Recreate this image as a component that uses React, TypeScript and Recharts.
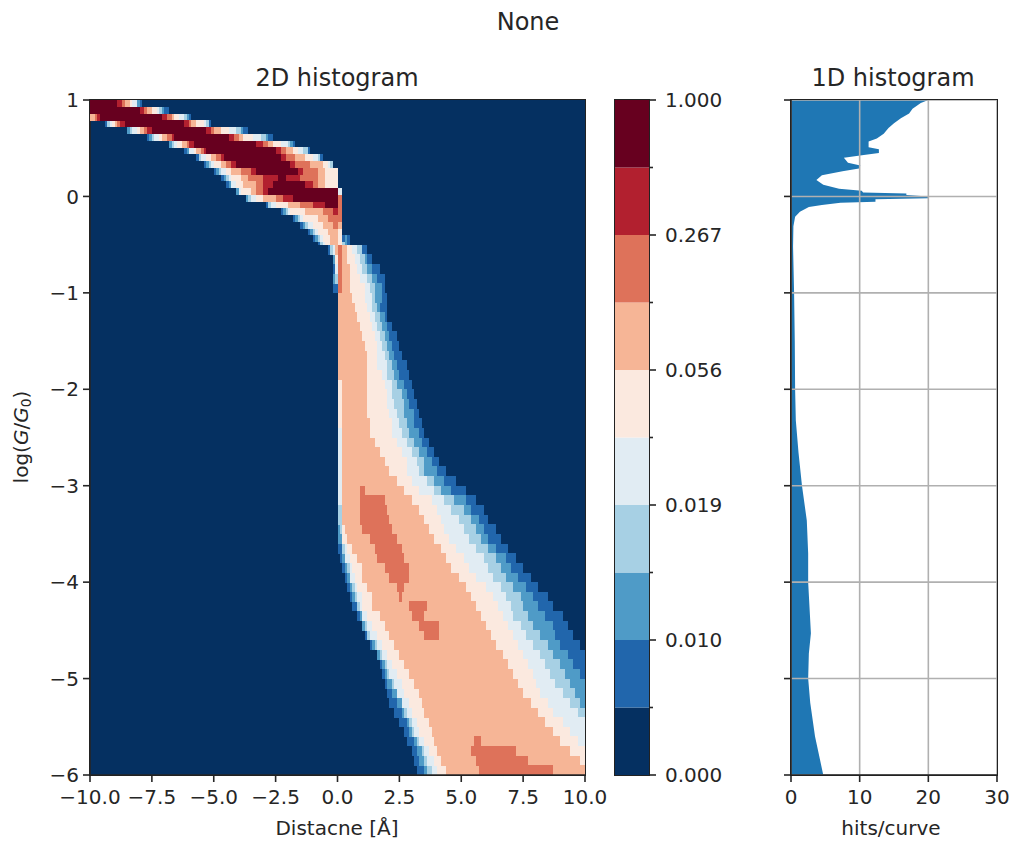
import React from "react";
import { Area, Bar, BarChart, ComposedChart, ReferenceLine, XAxis, YAxis } from "recharts";

const levelColors = ["#053061", "#2166ac", "#4f9bc7", "#a7d0e4", "#e1ecf3", "#fbe9df", "#f6b596", "#de725a", "#b2202f", "#67001f"];
const colorbarLabels = ["0.000", "", "0.010", "", "0.019", "", "0.056", "", "0.267", "", "1.000"];
const colorbarTicks = [0, 1, 2, 3, 4, 5, 6, 7, 8, 9, 10];
const distanceTicks = [-10, -7.5, -5, -2.5, 0, 2.5, 5, 7.5, 10];
const logTicks = [-6, -5, -4, -3, -2, -1, 0, 1];
const hitsTicks = [0, 10, 20, 30];

// log(G/G0) at the centre of each heatmap row, top to bottom
const rowG = [
  0.95, 0.85, 0.75, 0.65, 0.55, 0.45, 0.35, 0.25, 0.15, 0.05, -0.05, -0.15, -0.25, -0.35, -0.45, -0.55, -0.65, -0.75, -0.85, -0.95,
  -1.05, -1.15, -1.25, -1.35, -1.45, -1.55, -1.65, -1.75, -1.85, -1.95, -2.05, -2.15, -2.25, -2.35, -2.45, -2.55, -2.65, -2.75, -2.85, -2.95,
  -3.05, -3.15, -3.25, -3.35, -3.45, -3.55, -3.65, -3.75, -3.85, -3.95, -4.05, -4.15, -4.25, -4.35, -4.45, -4.55, -4.65, -4.75, -4.85, -4.95,
  -5.05, -5.15, -5.25, -5.35, -5.45, -5.55, -5.65, -5.75, -5.85, -5.95,
];
const FIRST_TAIL_ROW = 14; // rows above this are drawn by the finer ridge chart

// left edge of colour levels 1 to 6 on each row from FIRST_TAIL_ROW down (distance)
const leftEdges = [
  [-0.8, -0.7, -0.7, -0.6, -0.5, -0.3], [-0.4, -0.3, -0.3, -0.2, -0.1, -0.1],
  [-0.2, -0.2, -0.1, -0.1, -0.1, 0], [-0.2, -0.1, -0.1, -0.1, 0, 0], [-0.2, -0.2, -0.1, 0, 0, 0], [-0.2, 0, 0, 0, 0, 0],
  [0, 0, 0, 0, 0, 0], [0, 0, 0, 0, 0, 0], [0, 0, 0, 0, 0, 0], [0, 0, 0, 0, 0, 0], [0, 0, 0, 0, 0, 0],
  [0, 0, 0, 0, 0, 0], [0, 0, 0, 0, 0, 0], [0, 0, 0, 0, 0, 0], [0, 0, 0, 0, 0, 0], [0, 0, 0, 0, 0, 0.2],
  [0, 0, 0, 0, 0, 0.2], [0, 0, 0, 0, 0, 0.2], [0, 0, 0, 0, 0, 0.2], [0, 0, 0, 0, 0, 0.2], [0, 0, 0, 0, 0.2, 0.2],
  [0, 0, 0, 0, 0.2, 0.2], [0, 0, 0, 0, 0.2, 0.2], [0, 0, 0, 0, 0.2, 0.2], [0, 0, 0, 0, 0.2, 0.2], [0, 0, 0, 0, 0.2, 0.2],
  [0, 0, 0, 0, 0.2, 0.2], [0, 0, 0, 0, 0.2, 0.2], [0, 0, 0, 0.2, 0.2, 0.2], [0, 0, 0, 0.2, 0.2, 0.2], [0, 0, 0.1, 0.2, 0.2, 0.3],
  [0, 0, 0.2, 0.2, 0.2, 0.4], [0, 0.2, 0.2, 0.3, 0.4, 0.6], [0.1, 0.2, 0.3, 0.3, 0.5, 0.8], [0.2, 0.3, 0.4, 0.5, 0.6, 1.0], [0.3, 0.4, 0.5, 0.5, 0.7, 1.0],
  [0.4, 0.5, 0.6, 0.7, 0.8, 1.2], [0.5, 0.6, 0.7, 0.8, 1.0, 1.4], [0.6, 0.8, 0.8, 0.9, 1.0, 1.4], [0.8, 0.9, 1.0, 1.0, 1.2, 1.7], [1.0, 1.0, 1.1, 1.2, 1.4, 1.9],
  [1.1, 1.2, 1.2, 1.3, 1.6, 2.1], [1.3, 1.4, 1.5, 1.6, 1.8, 2.3], [1.6, 1.6, 1.7, 1.8, 2.0, 2.5], [1.7, 1.8, 1.9, 2.0, 2.2, 2.7], [1.8, 1.9, 2.0, 2.1, 2.4, 2.9],
  [1.9, 2.0, 2.2, 2.3, 2.6, 3.1], [2.0, 2.2, 2.4, 2.4, 2.7, 3.3], [2.1, 2.4, 2.6, 2.6, 2.9, 3.4], [2.3, 2.6, 2.7, 2.8, 3.0, 3.5], [2.5, 2.8, 2.9, 3.0, 3.2, 3.7],
  [2.7, 2.9, 3.0, 3.1, 3.3, 3.8], [2.8, 3.1, 3.2, 3.3, 3.5, 3.9], [3.0, 3.2, 3.4, 3.5, 3.7, 4.0], [3.1, 3.3, 3.5, 3.6, 3.9, 4.2], [3.2, 3.5, 3.6, 3.8, 4.0, 4.4],
];

// right edge of colour levels 1 to 6, same rows
const rightEdges = [
  [0.5, 0.4, 0.3, 0.2, 0.2, 0], [1.2, 1.0, 1.0, 0.8, 0.6, 0.4],
  [1.4, 1.2, 1.1, 0.9, 0.7, 0.4], [1.7, 1.4, 1.2, 1.0, 0.8, 0.5], [1.9, 1.6, 1.4, 1.2, 0.9, 0.5], [1.9, 1.8, 1.5, 1.3, 1.1, 0.5],
  [2.0, 1.8, 1.5, 1.4, 1.1, 0.6], [2.0, 1.7, 1.6, 1.4, 1.2, 0.7], [2.0, 1.9, 1.7, 1.5, 1.3, 0.8], [2.2, 2.0, 1.8, 1.6, 1.4, 0.9], [2.4, 2.1, 1.9, 1.7, 1.5, 1.0],
  [2.5, 2.2, 2.0, 1.8, 1.6, 1.1], [2.6, 2.3, 2.1, 1.9, 1.6, 1.2], [2.8, 2.4, 2.2, 2.0, 1.6, 1.2], [2.9, 2.5, 2.3, 2.0, 1.8, 1.2], [3.0, 2.7, 2.4, 2.2, 1.9, 1.2],
  [3.1, 2.8, 2.6, 2.2, 2.0, 1.2], [3.2, 2.9, 2.7, 2.3, 2.0, 1.2], [3.3, 3.1, 2.7, 2.4, 2.1, 1.2], [3.4, 3.1, 2.8, 2.5, 2.2, 1.3], [3.5, 3.3, 2.9, 2.6, 2.2, 1.3],
  [3.7, 3.4, 3.1, 2.8, 2.4, 1.5], [3.9, 3.6, 3.3, 3.0, 2.6, 1.7], [4.1, 3.8, 3.5, 3.2, 2.8, 1.9], [4.4, 4.0, 3.5, 3.3, 2.8, 2.1], [4.8, 4.3, 3.9, 3.6, 3.0, 2.4],
  [5.2, 4.6, 4.2, 3.9, 3.3, 2.7], [5.6, 5.2, 4.7, 4.3, 3.8, 3.0], [5.9, 5.4, 5.1, 4.6, 4.0, 3.3], [6.1, 5.7, 5.4, 4.9, 4.2, 3.5], [6.4, 5.9, 5.6, 5.1, 4.3, 3.7],
  [6.6, 6.1, 5.8, 5.3, 4.5, 3.9], [6.9, 6.4, 6.1, 5.6, 4.8, 4.2], [7.2, 6.8, 6.4, 5.9, 5.1, 4.4], [7.5, 7.0, 6.6, 6.1, 5.3, 4.6], [7.8, 7.3, 6.8, 6.3, 5.6, 4.9],
  [8.1, 7.6, 7.1, 6.6, 6.0, 5.2], [8.5, 7.9, 7.4, 6.8, 6.3, 5.4], [8.7, 8.1, 7.5, 7.0, 6.5, 5.6], [9.1, 8.4, 7.7, 7.1, 6.7, 5.8], [9.3, 8.7, 7.9, 7.4, 6.9, 6.0],
  [9.5, 8.8, 8.2, 7.6, 7.1, 6.2], [9.8, 9.0, 8.5, 7.9, 7.3, 6.4], [10, 9.3, 8.7, 8.2, 7.5, 6.7], [10, 9.5, 9.0, 8.4, 7.7, 6.9], [10, 9.8, 9.2, 8.6, 7.9, 7.1],
  [10, 10, 9.4, 8.8, 8.0, 7.3], [10, 10, 9.6, 9.1, 8.2, 7.5], [10, 10, 9.8, 9.4, 8.5, 7.8], [10, 10, 10, 9.7, 8.7, 8.1], [10, 10, 10, 10, 9.1, 8.4],
  [10, 10, 10, 10, 9.4, 8.7], [10, 10, 10, 10, 9.7, 9.0], [10, 10, 10, 10, 10, 9.4], [10, 10, 10, 10, 10, 9.8], [10, 10, 10, 10, 10, 10],
];

// the orange islands in the tail
const level7Rows = [15, 16, 17, 18, 19, 40, 41, 42, 43, 44, 45, 46, 47, 48, 49, 50, 51, 52, 53, 54, 55, 66, 67, 68, 69];
const level7Spans = [
  [0, 0.2], [0, 0.2], [0, 0.2], [0, 0.2], [0, 0.2],
  [0.9, 1.1], [0.9, 1.9], [0.9, 2.0], [0.9, 2.1], [1.0, 2.2], [1.3, 2.4], [1.5, 2.6], [1.6, 2.7], [1.9, 2.9], [2.1, 2.9], [2.4, 2.7], [2.5, 2.6], [2.9, 3.6], [3.0, 3.5], [3.3, 4.1], [3.5, 4.1],
  [5.5, 5.8], [5.4, 7.2], [5.6, 7.7], [5.7, 8.7],
];

// the ridge at high conductance, read at the finer bin height of the source
const ridgeG = [0.965, 0.895, 0.825, 0.755, 0.685, 0.615, 0.545, 0.475, 0.405, 0.335, 0.265, 0.195, 0.125, 0.055, -0.015, -0.085, -0.155, -0.225, -0.295, -0.365, -0.435];
// left edges of levels 1 to 9
const ridgeLeft = [
  [-10, -10, -10, -10, -10, -10, -10, -10, -10],
  [-10, -10, -10, -10, -10, -10, -10, -10, -10],
  [-10, -10, -10, -10, -10, -10, -9.8, -9.7, -9.6],
  [-9.4, -9.3, -9.3, -9.2, -9.1, -9.0, -8.9, -8.8, -8.6],
  [-8.5, -8.5, -8.4, -8.3, -8.1, -8.0, -7.8, -7.7, -7.5],
  [-7.7, -7.6, -7.5, -7.4, -7.2, -7.1, -6.9, -6.7, -6.6],
  [-6.8, -6.8, -6.7, -6.6, -6.5, -6.3, -6.1, -6.0, -5.8],
  [-6.2, -6.1, -6.0, -6.0, -5.8, -5.7, -5.5, -5.4, -5.3],
  [-5.7, -5.6, -5.6, -5.5, -5.3, -5.1, -4.9, -4.7, -4.6],
  [-5.4, -5.3, -5.2, -5.1, -5.0, -4.7, -4.5, -4.3, -4.1],
  [-5.0, -4.9, -4.8, -4.7, -4.5, -4.3, -3.9, -3.5, -3.3],
  [-4.7, -4.6, -4.5, -4.4, -4.3, -3.9, -3.6, -3.0, -2.4],
  [-4.5, -4.4, -4.3, -4.3, -4.1, -3.8, -3.3, -3.0, -2.6],
  [-4.1, -4.1, -4.0, -4.0, -3.9, -3.5, -3.3, -3.0, -2.8],
  [-3.7, -3.7, -3.6, -3.5, -3.3, -3.0, -2.5, -2.2, -1.8],
  [-2.9, -2.8, -2.8, -2.7, -2.5, -2.0, -1.5, -1.0, -0.5],
  [-2.3, -2.2, -2.1, -2.0, -1.9, -1.3, -0.6, -0.2, null],
  [-1.8, -1.7, -1.6, -1.5, -1.4, -0.8, -0.4, null, null],
  [-1.5, -1.4, -1.3, -1.2, -1.0, -0.6, -0.2, null, null],
  [-1.2, -1.1, -1.0, -0.9, -0.8, -0.4, null, null, null],
  [-1.0, -0.9, -0.8, -0.7, -0.6, -0.3, null, null, null],
];
// right edges of levels 1 to 9
const ridgeRight = [
  [-7.9, -8.0, -8.1, -8.1, -8.3, -8.4, -8.6, -8.7, -8.9],
  [-6.8, -7.0, -7.1, -7.2, -7.3, -7.5, -7.7, -7.8, -8.0],
  [-5.9, -6.0, -6.1, -6.2, -6.4, -6.6, -6.7, -6.9, -7.1],
  [-5.1, -5.2, -5.2, -5.3, -5.4, -5.7, -5.9, -6.0, -6.2],
  [-3.6, -3.8, -3.9, -4.1, -4.4, -4.7, -5.0, -5.1, -5.3],
  [-2.6, -2.8, -2.9, -3.1, -3.4, -3.8, -4.0, -4.2, -4.4],
  [-1.7, -1.8, -1.9, -2.0, -2.3, -2.6, -2.8, -3.0, -3.3],
  [-1.1, -1.2, -1.2, -1.4, -1.6, -1.8, -2.1, -2.3, -2.5],
  [-0.6, -0.7, -0.7, -0.8, -1.0, -1.3, -1.7, -2.1, -2.3],
  [-0.2, -0.2, -0.2, -0.3, -0.4, -0.6, -1.1, -1.7, -1.9],
  [0, 0, 0, 0, 0, -0.5, -0.8, -1.4, -1.6],
  [0, 0, 0, 0, 0, -0.5, -0.8, -1.5, -2.1],
  [0, 0, 0, 0, 0, -0.5, -0.8, -1.0, -1.3],
  [0.2, 0.2, 0.2, 0.2, 0, -0.3, 0, 0, 0],
  [0.2, 0.2, 0.2, 0.2, 0.2, 0.2, 0.2, 0, 0],
  [0.2, 0.2, 0.2, 0.2, 0.2, 0.2, 0.2, 0, 0],
  [0.2, 0.2, 0.2, 0.2, 0.2, 0.2, 0.2, 0, null],
  [0.2, 0.2, 0.2, 0.2, 0.2, 0.2, 0.2, null, null],
  [0.2, 0.2, 0.2, 0.2, 0.2, 0.2, 0, null, null],
  [0.2, 0.2, 0.2, 0.2, 0.2, 0, null, null, null],
  [0.3, 0.2, 0.2, 0.2, 0.2, 0, null, null, null],
];

const histG = [
  1.0, 0.97, 0.91, 0.86, 0.81, 0.76, 0.71, 0.65, 0.6, 0.57, 0.51, 0.49, 0.45, 0.43, 0.4, 0.35, 0.32, 0.29, 0.26, 0.22, 0.17, 0.12, 0.08, 0.06, 0.04, 0.03, 0.015, 0.0, -0.02, -0.03, -0.055, -0.065, -0.09, -0.11, -0.16, -0.21, -0.31, -0.52, -1.0, -1.5, -2.0, -2.32, -2.66, -3.0, -3.36, -3.7, -4.0, -4.53, -4.74, -5.0, -5.25, -5.6, -6.0,
];
const histHits = [
  20, 18.9, 17.7, 17.2, 16, 15, 14.2, 13.5, 12.5, 11.3, 11.3, 12.8, 12.8, 10.6, 7.7, 8.3, 10.1, 9.9, 7.5, 4.5, 3.7, 4.7, 7, 10.3, 10.5, 16.8, 16.8, 20, 20, 12.3, 12.3, 7.2, 4.5, 2.6, 1.3, 0.6, 0.35, 0.3, 0.45, 0.55, 0.6, 0.7, 1.1, 1.6, 2.3, 2.5, 2.5, 2.9, 2.6, 2.5, 2.8, 3.5, 4.7,
];

const FONT = "'DejaVu Sans', sans-serif";
const INK = "#262626";
const TICK_FONT = 20;
const TITLE_FONT = 24;
const TAIL_LEVELS = [1, 2, 3, 4, 5, 6, 7];
const RIDGE_LEVELS = [1, 2, 3, 4, 5, 6, 7, 8, 9];

const tailRows = rowG.map((g, i) => {
  const row: Record<string, any> = { row: g, lvl0: [-10, 10] };
  const t = i - FIRST_TAIL_ROW;
  if (t >= 0) {
    [1, 2, 3, 4, 5, 6].forEach((lvl, k) => {
      row["lvl" + lvl] = [leftEdges[t][k], rightEdges[t][k]];
    });
  }
  return row;
});
level7Rows.forEach((r, i) => (tailRows[r].lvl7 = level7Spans[i]));

const ridgeRows = ridgeG.map((g, i) => {
  const row: Record<string, any> = { row: g };
  RIDGE_LEVELS.forEach((lvl, k) => {
    if (ridgeLeft[i][k] !== null) row["lvl" + lvl] = [ridgeLeft[i][k], ridgeRight[i][k]];
  });
  return row;
});

const histRows = histG.map((g, i) => ({ g, hits: histHits[i] }));
const colorbarRow = [Object.fromEntries(levelColors.map((_, i) => ["band" + i, 1]))];

const minus = (v: number, digits = 0) => v.toFixed(digits).replace("-", "\u2212");

// bars get floored to whole pixels, so let each row overlap the next one
function HeatCell(props: any) {
  const { x, y, width, height, fill } = props;
  if (!width) return null;
  return <rect x={x} y={y} width={width} height={height + 1} fill={fill} shapeRendering="crispEdges" />;
}

function ColorbarTick(props: any) {
  const { x, y, payload } = props;
  const label = colorbarLabels[payload.value];
  return (
    <g>
      <line x1={x} x2={x + (label ? 7 : 4)} y1={y} y2={y} stroke={INK} strokeWidth={1.6} />
      <text x={x + 16} y={y + 7} fontSize={TICK_FONT} fontFamily={FONT} fill={INK}>
        {label}
      </text>
    </g>
  );
}

const tickStyle = { fontSize: TICK_FONT, fontFamily: FONT, fill: INK };
const axisLine = { stroke: INK, strokeWidth: 1.6 };
const frame = (left: number, width: number): React.CSSProperties => ({
  position: "absolute",
  left,
  top: 99.2,
  width,
  height: 675,
  border: "1.6px solid #222",
  pointerEvents: "none",
});
const caption = (center: number, top: number, size: number): React.CSSProperties => ({
  position: "absolute",
  left: center - 150,
  width: 300,
  top,
  textAlign: "center",
  fontFamily: FONT,
  fontSize: size,
  color: INK,
  lineHeight: "22px",
});

export default function App() {
  return (
    <div style={{ position: "absolute", left: 0, top: 0, width: 1010, height: 843, background: "#fff", overflow: "hidden" }}>
      <div style={caption(528, 11, TITLE_FONT)}>None</div>
      <div style={caption(337, 67, TITLE_FONT)}>2D histogram</div>
      <div style={caption(893, 67, TITLE_FONT)}>1D histogram</div>
      <div style={caption(337, 817, TICK_FONT)}>{"Distacne [\u00c5]"}</div>
      <div style={caption(891, 817, TICK_FONT)}>hits/curve</div>

      <div style={{ position: "absolute", left: 0, top: 0 }}>
        <ComposedChart
          width={610}
          height={843}
          data={tailRows}
          layout="vertical"
          margin={{ top: 100, left: 30, right: 25, bottom: 38 }}
          barCategoryGap={0}
          barGap={-9}
        >
          <XAxis
            type="number"
            domain={[-10, 10]}
            ticks={distanceTicks}
            interval={0}
            height={30}
            tickSize={7}
            tickMargin={8}
            tick={tickStyle}
            stroke={INK}
            strokeWidth={1.6}
            axisLine={axisLine}
            tickFormatter={(v: number) => minus(v, 1)}
          />
          <YAxis
            yAxisId="ticks"
            type="number"
            dataKey="row"
            domain={[-6, 1]}
            ticks={logTicks}
            interval={0}
            reversed
            width={60}
            tickSize={7}
            tickMargin={4}
            tick={tickStyle}
            stroke={INK}
            strokeWidth={1.6}
            axisLine={axisLine}
            tickFormatter={(v: number) => minus(v)}
          />
          <YAxis yAxisId="rows" type="category" dataKey="row" hide width={0} />
          <Bar yAxisId="rows" dataKey="lvl0" fill={levelColors[0]} shape={HeatCell} isAnimationActive={false} />
          {TAIL_LEVELS.map((lvl) => (
            <Bar key={lvl} yAxisId="rows" dataKey={"lvl" + lvl} fill={levelColors[lvl]} shape={HeatCell} isAnimationActive={false} />
          ))}
        </ComposedChart>
      </div>

      <div style={{ position: "absolute", left: 0, top: 0 }}>
        <ComposedChart
          width={610}
          height={260}
          data={ridgeRows}
          layout="vertical"
          margin={{ top: 100, left: 90, right: 25, bottom: 18.25 }}
          barCategoryGap={0}
          barGap={-6}
        >
          <XAxis type="number" domain={[-10, 10]} hide height={0} />
          <YAxis type="category" dataKey="row" hide width={0} />
          {RIDGE_LEVELS.map((lvl) => (
            <Bar key={lvl} dataKey={"lvl" + lvl} fill={levelColors[lvl]} shape={HeatCell} isAnimationActive={false} />
          ))}
        </ComposedChart>
      </div>

      <svg width={60} height={843} style={{ position: "absolute", left: 0, top: 0 }}>
        <text transform="translate(28,437) rotate(-90)" textAnchor="middle" fontSize={TICK_FONT} fontFamily={FONT} fill={INK}>
          log(<tspan fontStyle="italic">G</tspan>/<tspan fontStyle="italic">G</tspan>
          <tspan fontSize={14} dy={3}>0</tspan>
          <tspan dy={-3}>)</tspan>
        </text>
      </svg>

      <div style={{ position: "absolute", left: 600, top: 0 }}>
        <BarChart width={130} height={843} data={colorbarRow} margin={{ top: 100, left: 15, right: 0, bottom: 68 }} barCategoryGap={0}>
          <XAxis hide />
          <YAxis
            orientation="right"
            type="number"
            domain={[0, 10]}
            ticks={colorbarTicks}
            interval={0}
            width={81}
            axisLine={false}
            tickLine={false}
            tickSize={0}
            tickMargin={0}
            tick={<ColorbarTick />}
          />
          {levelColors.map((c, i) => (
            <Bar key={c} dataKey={"band" + i} stackId="cb" fill={c} isAnimationActive={false} />
          ))}
        </BarChart>
      </div>

      <div style={{ position: "absolute", left: 770, top: 0 }}>
        <ComposedChart width={240} height={843} data={histRows} layout="vertical" margin={{ top: 100, left: 11, right: 13, bottom: 38 }}>
          <XAxis
            type="number"
            domain={[0, 30]}
            ticks={hitsTicks}
            interval={0}
            height={30}
            tickSize={7}
            tickMargin={8}
            tick={tickStyle}
            stroke={INK}
            strokeWidth={1.6}
            axisLine={axisLine}
          />
          <YAxis
            type="number"
            dataKey="g"
            domain={[-6, 1]}
            ticks={logTicks}
            interval={0}
            reversed
            width={10}
            tickSize={7}
            tickFormatter={() => ""}
            stroke={INK}
            strokeWidth={1.6}
            axisLine={axisLine}
          />
          <Area dataKey="hits" type="linear" stroke="none" fill="#1f77b4" fillOpacity={1} isAnimationActive={false} />
          {hitsTicks.map((t) => (
            <ReferenceLine key={"v" + t} x={t} stroke="#b0b0b0" strokeWidth={1.6} />
          ))}
          {logTicks.map((t) => (
            <ReferenceLine key={"h" + t} y={t} stroke="#b0b0b0" strokeWidth={1.6} />
          ))}
        </ComposedChart>
      </div>

      <div style={frame(89.2, 495)} />
      <div style={frame(614.2, 34)} />
      <div style={frame(790.2, 206)} />
    </div>
  );
}
